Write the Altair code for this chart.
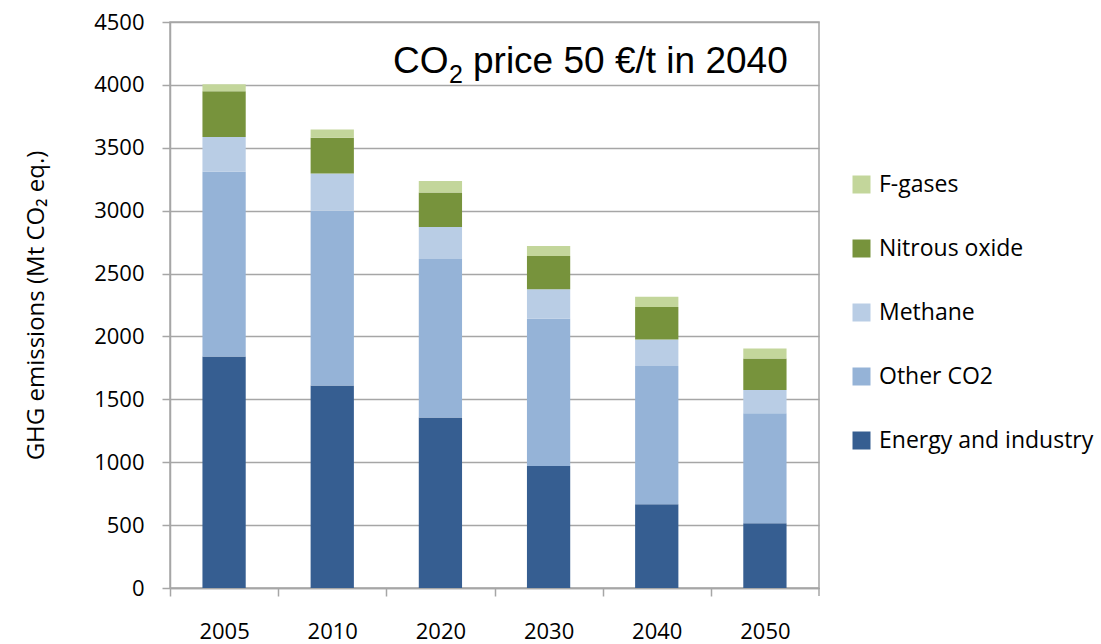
import altair as alt
import pandas as pd

years = ["2005", "2010", "2020", "2030", "2040", "2050"]
energy = [1840, 1610, 1355, 970, 665, 515]
other_co2 = [1470, 1390, 1260, 1170, 1100, 875]
methane = [275, 295, 255, 235, 210, 185]
nitrous = [365, 285, 275, 265, 260, 250]
fgases = [55, 65, 90, 80, 80, 80]
series = ["Energy and industry", "Other CO2", "Methane", "Nitrous oxide", "F-gases"]
colors = ["#365E91", "#95B3D7", "#B9CDE5", "#77933C", "#C3D69B"]
y_ticks = [0, 500, 1000, 1500, 2000, 2500, 3000, 3500, 4000, 4500]
title_parts = ["CO", "2", "price 50 €/t in 2040"]

rows = []
for i, (name, vals) in enumerate(zip(series, [energy, other_co2, methane, nitrous, fgases])):
    for yr, v in zip(years, vals):
        rows.append({"year": yr, "gas": name, "value": v, "order": i})
df = pd.DataFrame(rows)

W, H = 649, 566
PL, PT = 170, 22
STEP = W / 6.0
LABEL_FONT = "Open Sans"
GRID = "#a6a6a6"

bars = alt.Chart(df).mark_bar().encode(
    x=alt.X(
        "year:N",
        sort=years,
        scale=alt.Scale(paddingInner=0.6, paddingOuter=0.3),
        axis=alt.Axis(
            title=None, labelAngle=0, labelFont=LABEL_FONT, labelFontSize=22,
            labelColor="black", labelPadding=25, tickOffset=-STEP / 2, labelOffset=STEP / 2,
            tickSize=8, tickColor=GRID, tickWidth=1.5, domainColor=GRID, domainWidth=1.5,
            grid=False,
        ),
    ),
    y=alt.Y(
        "value:Q",
        stack="zero",
        scale=alt.Scale(domain=[0, 4500], nice=False),
        axis=alt.Axis(
            values=y_ticks, format="d", title="GHG emissions (Mt CO₂ eq.)", titleFont=LABEL_FONT,
            titleFontSize=24, titleFontWeight="normal", titleColor="black",
            titleX=-134, titleY=H / 2, titleAlign="center", titleBaseline="middle", titleAngle=270,
            labelFont=LABEL_FONT, labelFontSize=22, labelColor="black", labelPadding=18,
            tickSize=8, tickColor=GRID, tickWidth=1.5, domainColor=GRID, domainWidth=1.5,
            gridColor=GRID, gridWidth=1.5,
        ),
    ),
    color=alt.Color(
        "gas:N",
        scale=alt.Scale(domain=series[::-1], range=colors[::-1]),
        legend=alt.Legend(
            title=None, orient="none", legendX=680, legendY=151, symbolType="square",
            symbolSize=324, symbolStrokeWidth=0, symbolOpacity=1, labelFont=LABEL_FONT,
            labelFontSize=23, labelColor="black", labelOffset=6, rowPadding=40,
            labelLimit=400,
        ),
    ),
    order=alt.Order("order:Q", sort="ascending"),
)

last_tick = alt.Chart(pd.DataFrame({"k": [0]})).mark_rule(color=GRID, strokeWidth=1.5).encode(
    x=alt.value(W), y=alt.value(H), y2=alt.value(H + 8)
)

t1 = alt.Chart(pd.DataFrame({"t": [title_parts[0]]})).mark_text(
    font="Liberation Sans", fontSize=37, align="left", baseline="alphabetic", color="black"
).encode(text="t:N", x=alt.value(223), y=alt.value(51))
t2 = alt.Chart(pd.DataFrame({"t": [title_parts[1]]})).mark_text(
    font="Liberation Sans", fontSize=25, align="left", baseline="alphabetic", color="black"
).encode(text="t:N", x=alt.value(279), y=alt.value(61))
t3 = alt.Chart(pd.DataFrame({"t": [title_parts[2]]})).mark_text(
    font="Liberation Sans", fontSize=37, align="left", baseline="alphabetic", color="black"
).encode(text="t:N", x=alt.value(303), y=alt.value(51))

chart = alt.layer(bars, last_tick, t1, t2, t3).properties(
    width=W, height=H,
    autosize=alt.AutoSizeParams(type="none"),
    padding={"left": PL, "top": PT, "right": 1101 - PL - W, "bottom": 644 - PT - H},
    background="white",
).configure_view(stroke=GRID, strokeWidth=1.5)

chart.save("out.html", embed_options={"renderer": "svg", "actions": False})
